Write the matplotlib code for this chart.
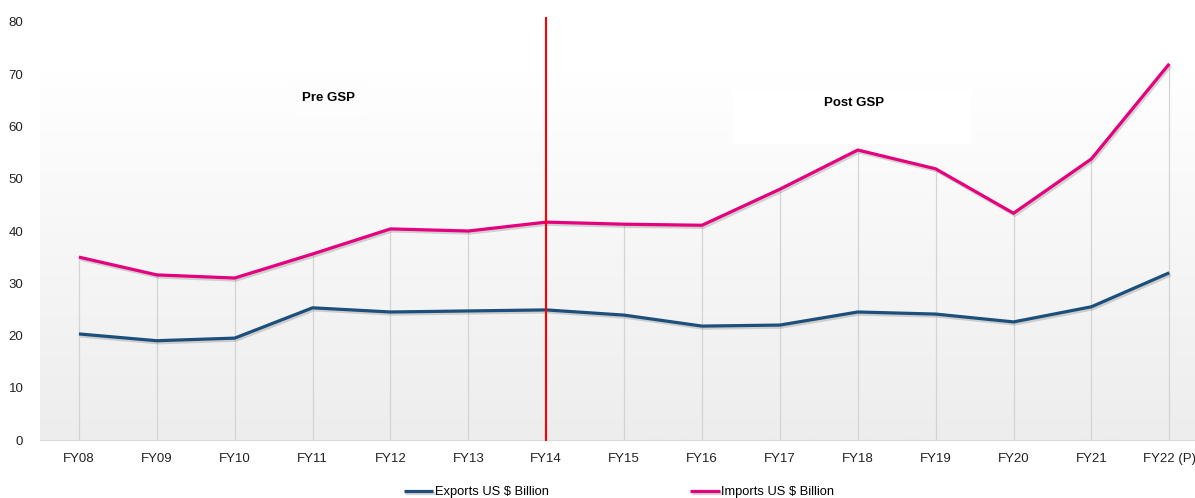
import numpy as np
import matplotlib.pyplot as plt
import matplotlib.patheffects as pe

plt.rcParams['font.family'] = ['Liberation Sans', 'DejaVu Sans']

years = ["FY08", "FY09", "FY10", "FY11", "FY12", "FY13", "FY14", "FY15",
         "FY16", "FY17", "FY18", "FY19", "FY20", "FY21", "FY22 (P)"]
exports = [20.3, 19.0, 19.5, 25.3, 24.5, 24.7, 24.9, 23.9, 21.8, 22.0, 24.5, 24.1, 22.6, 25.5, 32.0]
imports = [35.0, 31.6, 31.0, 35.6, 40.4, 40.0, 41.7, 41.3, 41.1, 48.0, 55.5, 51.9, 43.4, 53.8, 72.0]
split_year = "FY14"

fig = plt.figure(figsize=(11.95, 4.98), dpi=100)
ax = fig.add_axes([40 / 1195, 1 - 440 / 498, 1 - 40 / 1195, (440 - 22) / 498])

x = np.arange(len(years))
xmin, xmax = -0.5, 14.33

# soft gradient panel behind the lines
grad = np.linspace(0, 1, 256).reshape(-1, 1)
ax.imshow(grad, cmap=plt.matplotlib.colors.LinearSegmentedColormap.from_list(
    "bg", ["#ededed", "#ffffff"]), origin="lower", aspect="auto",
    extent=[xmin, xmax, 0, 71], zorder=0)

# drop lines
ax.vlines(x, 0, imports, color="#d4d4d4", lw=0.9, zorder=1)

shadow = [pe.SimpleLineShadow(offset=(1, -1.5), shadow_color="#888888", alpha=0.35), pe.Normal()]
ax.plot(x, exports, color="#1c4f7c", lw=2.3, label="Exports US $ Billion",
        path_effects=shadow, zorder=3, solid_capstyle="butt")
ax.plot(x, imports, color="#e5007d", lw=2.3, label="Imports US $ Billion",
        path_effects=shadow, zorder=3, solid_capstyle="butt")

# GSP split line
sx = years.index(split_year)
ax.plot([sx, sx], [0, 80.8], color="#ff0000", lw=1.5, zorder=4, clip_on=False)

# annotation boxes
ax.text(3.2, 65.5, "Pre GSP", ha="center", va="center", fontsize=9.5, fontweight="bold",
        bbox=dict(boxstyle="square,pad=0.9", fc="#fdfdfd", ec="none"), zorder=2)
ax.text(9.95, 64.5, "Post GSP", ha="center", va="center", fontsize=9.5, fontweight="bold",
        bbox=dict(boxstyle="square,pad=0.3", fc="white", ec="none"), zorder=2)
ax.add_patch(plt.Rectangle((8.4, 56.7), 3.05, 10.1, fc="white", ec="none", zorder=1.5))

ax.set_xlim(xmin, xmax)
ax.set_ylim(0, 80)
ax.set_yticks(range(0, 81, 10))
ax.set_xticks(x)
ax.set_xticklabels(years)
ax.tick_params(axis="both", length=0, labelsize=9.5, colors="#222222")
ax.tick_params(axis="x", pad=9)
ax.tick_params(axis="y", pad=12)
for s in ["top", "right", "left"]:
    ax.spines[s].set_visible(False)
ax.spines["bottom"].set_color("#d9d9d9")
ax.set_facecolor("white")

fig.legend(loc="center", bbox_to_anchor=(0.518, 0.012), ncol=2, frameon=False,
           fontsize=9.3, handlelength=2.3, handletextpad=0.1, columnspacing=11.0)

fig.savefig("out.png", dpi=100)
